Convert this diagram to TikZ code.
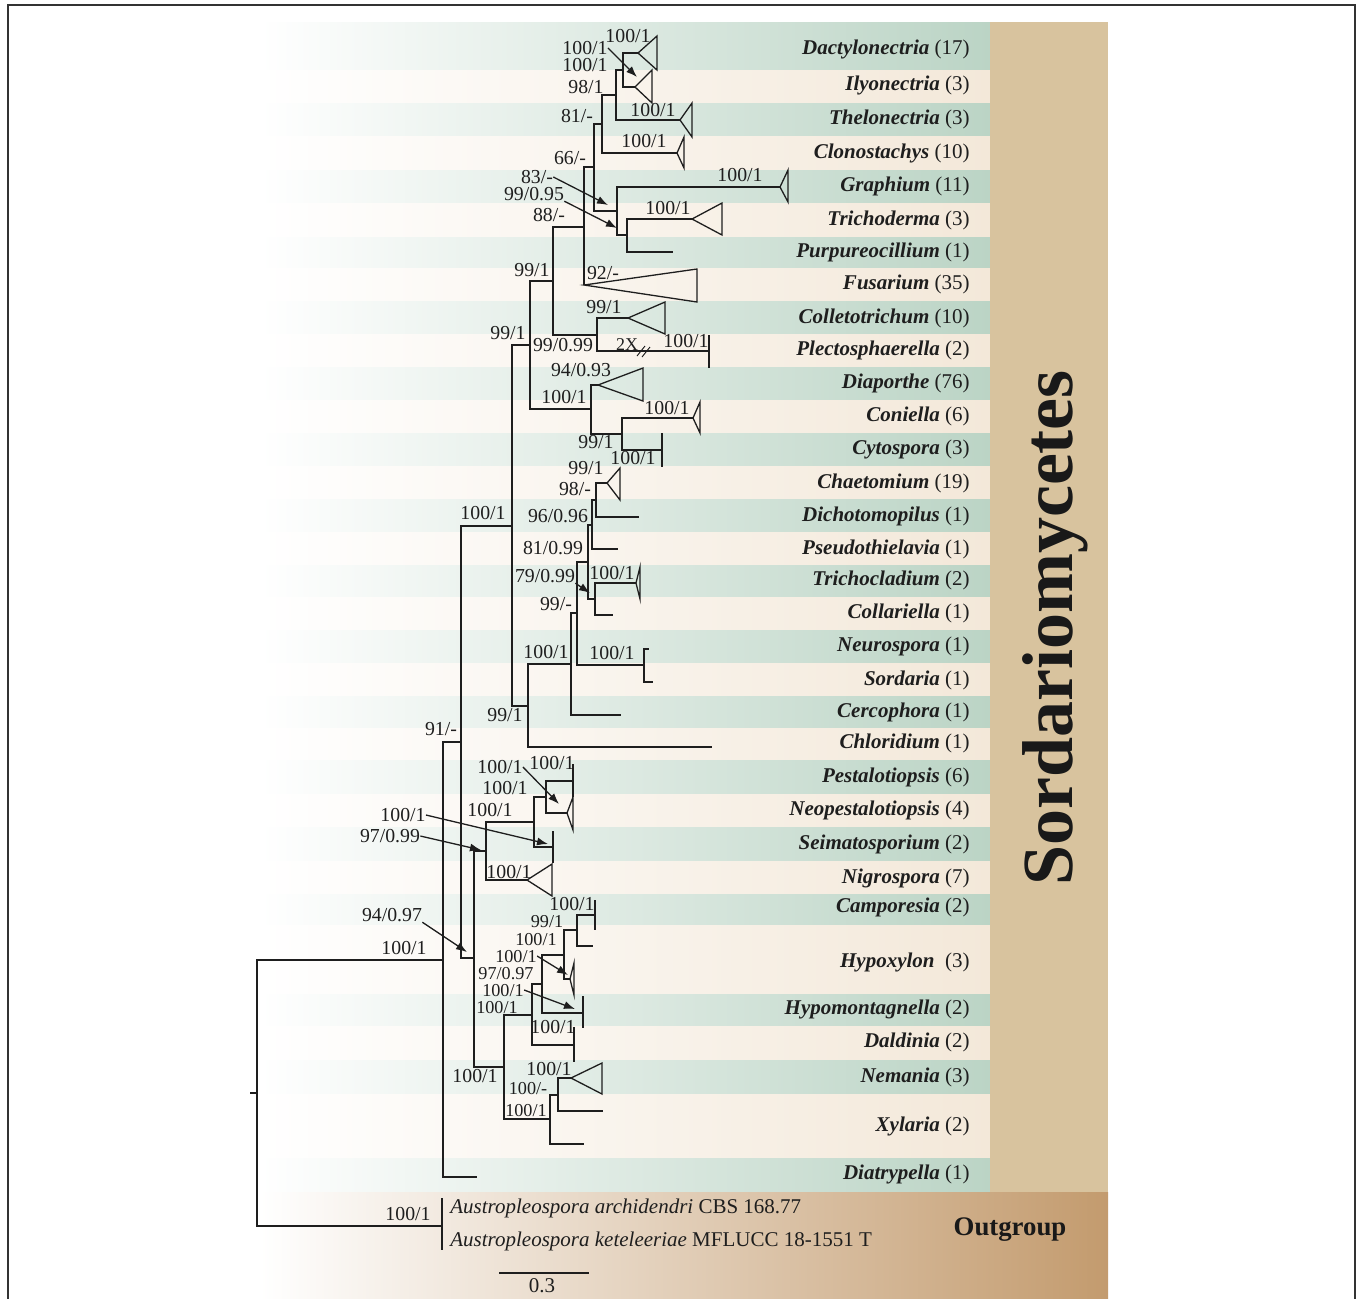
\documentclass[tikz,border=0pt]{standalone}
\usepackage{fontspec}
\setmainfont{Liberation Serif}
\usetikzlibrary{arrows.meta}
\definecolor{bgreen}{RGB}{187,212,197}
\definecolor{bbeige}{RGB}{243,232,217}
\definecolor{sbar}{RGB}{216,195,158}
\definecolor{ogr}{RGB}{195,155,110}
\definecolor{ogm}{RGB}{236,224,208}
\definecolor{treecol}{RGB}{30,30,30}
\tikzset{
  br/.style={draw=treecol, line width=0.65pt},
  arr/.style={draw=treecol, line width=0.65pt, -{Latex[length=5.5pt,width=4pt]}},
  bs/.style={font=\fontsize{9.9}{10}\selectfont, inner sep=0pt, text height=0.68em, text depth=0pt, text=treecol},
  bsm/.style={bs, font=\fontsize{9.1}{10}\selectfont},
  tx/.style={font=\fontsize{10.5}{12}\selectfont, anchor=east, inner sep=0pt, text height=0.7em, text depth=0.2em, text=treecol},
}
\begin{document}
\begin{tikzpicture}[x=0.5pt,y=-0.5pt]
\useasboundingbox (0,0) rectangle (1358,1298);
% frame
\draw[line width=0.7pt, draw=black!80] (8,5) rectangle (1355,1330);
% bands
\foreach \ta/\tb/\c in {22/70/bgreen,70/103/bbeige,103/136/bgreen,136/170/bbeige,170/203/bgreen,203/237/bbeige,237/268/bgreen,268/301/bbeige,301/334/bgreen,334/367/bbeige,367/400/bgreen,400/433/bbeige,433/466/bgreen,466/499/bbeige,499/532/bgreen,532/565/bbeige,565/597/bgreen,597/630/bbeige,630/663/bgreen,663/696/bbeige,696/728/bgreen,728/760/bbeige,760/794/bgreen,794/827/bbeige,827/861/bgreen,861/894/bbeige,894/925/bgreen,925/994/bbeige,994/1026/bgreen,1026/1060/bbeige,1060/1094/bgreen,1094/1158/bbeige,1158/1192/bgreen}
  {\shade[left color=white, middle color=\c!62!white, right color=\c] (260,\ta) rectangle (990,\tb);}
\fill[sbar] (990,22) rectangle (1108,1192);
\shade[left color=white, middle color=ogm, right color=ogr] (260,1192) rectangle (1108,1298);
\node[font=\bfseries\fontsize{36}{40}\selectfont, rotate=90, inner sep=0pt, text=black!90] (sord) at (1055,628) {Sordariomycetes};
\node[font=\bfseries\fontsize{13.4}{15}\selectfont, inner sep=0pt, text=black!90] (outg) at (1010,1230) {Outgroup};

% genus labels
\foreach \y/\t in {49/{\textbf{\textit{Dactylonectria}} (17)},85/{\textbf{\textit{Ilyonectria}} (3)},119/{\textbf{\textit{Thelonectria}} (3)},153/{\textbf{\textit{Clonostachys}} (10)},186/{\textbf{\textit{Graphium}} (11)},220/{\textbf{\textit{Trichoderma}} (3)},252/{\textbf{\textit{Purpureocillium}} (1)},284/{\textbf{\textit{Fusarium}} (35)},318/{\textbf{\textit{Colletotrichum}} (10)},350/{\textbf{\textit{Plectosphaerella}} (2)},383/{\textbf{\textit{Diaporthe}} (76)},416/{\textbf{\textit{Coniella}} (6)},449/{\textbf{\textit{Cytospora}} (3)},483/{\textbf{\textit{Chaetomium}} (19)},516/{\textbf{\textit{Dichotomopilus}} (1)},549/{\textbf{\textit{Pseudothielavia}} (1)},580/{\textbf{\textit{Trichocladium}} (2)},613/{\textbf{\textit{Collariella}} (1)},646/{\textbf{\textit{Neurospora}} (1)},680/{\textbf{\textit{Sordaria}} (1)},712/{\textbf{\textit{Cercophora}} (1)},743/{\textbf{\textit{Chloridium}} (1)},777/{\textbf{\textit{Pestalotiopsis}} (6)},810/{\textbf{\textit{Neopestalotiopsis}} (4)},844/{\textbf{\textit{Seimatosporium}} (2)},878/{\textbf{\textit{Nigrospora}} (7)},907/{\textbf{\textit{Camporesia}} (2)},962/{\textbf{\textit{Hypoxylon}}\ \ (3)},1009/{\textbf{\textit{Hypomontagnella}} (2)},1042/{\textbf{\textit{Daldinia}} (2)},1077/{\textbf{\textit{Nemania}} (3)},1126/{\textbf{\textit{Xylaria}} (2)},1174/{\textbf{\textit{Diatrypella}} (1)}}
  {\node[tx] (g\y) at (970,\y) {\t};}
\node[tx, anchor=west] (og1) at (450,1208) {\textit{Austropleospora archidendri} CBS 168.77};
\node[tx, anchor=west] (og2) at (450,1241) {\textit{Austropleospora keteleeriae} MFLUCC 18-1551 T};

% internal nodes
\coordinate (nDI) at (623,70);
\coordinate (nT) at (616,95);
\coordinate (nC) at (602,124);
\coordinate (nA) at (594,167);
\coordinate (nG) at (617,211);
\coordinate (nTr) at (627,235);
\coordinate (nF) at (584,227);
\coordinate (nB) at (553,281);
\coordinate (nCP) at (597,335);
\coordinate (nX) at (530,345);
\coordinate (nDC) at (591,409);
\coordinate (nCC) at (622,434);
\coordinate (nS) at (512,526);
\coordinate (nG2) at (528,706);
\coordinate (nF2) at (571,664);
\coordinate (nD) at (577,613);
\coordinate (nE) at (644,665);
\coordinate (nB2) at (588,562);
\coordinate (nA2) at (592,525);
\coordinate (nDi) at (596,500);
\coordinate (nC2) at (595,599);
\coordinate (nH) at (461,742);
\coordinate (nJ) at (443,960);
\coordinate (root) at (257,1093);
\coordinate (nOut) at (442,1226);
\coordinate (nK) at (486,851);
\coordinate (nL) at (534,822);
\coordinate (nM) at (546,797);
\coordinate (nI) at (474,958);
\coordinate (nN) at (504,1067);
\coordinate (nO) at (532,1015);
\coordinate (nQ) at (542,984);
\coordinate (nR) at (564,955);
\coordinate (nS2) at (577,930);
\coordinate (nP) at (550,1119);
\coordinate (nT2) at (558,1095);
% leaves / apices
\coordinate (aDac) at (638,53);
\coordinate (aIly) at (635,87);
\coordinate (aThe) at (680,120);
\coordinate (aClo) at (677,153);
\coordinate (aGra) at (780,187);
\coordinate (aTri) at (692,219);
\coordinate (lPur) at (673,252);
\coordinate (aFus) at (584,285);
\coordinate (aCol) at (628,318);
\coordinate (lPle) at (709,351);
\coordinate (aDia) at (598,385);
\coordinate (aCon) at (693,418);
\coordinate (lCyt) at (662,450);
\coordinate (aCha) at (607,483);
\coordinate (lDic) at (639,517);
\coordinate (lPse) at (618,549);
\coordinate (aTcl) at (636,583);
\coordinate (lCol) at (613,615);
\coordinate (lNeu) at (649,649);
\coordinate (lSor) at (653,682);
\coordinate (lCer) at (621,715);
\coordinate (lChl) at (712,747);
\coordinate (lPes) at (573,781);
\coordinate (aNeo) at (567,813);
\coordinate (lSei) at (553,847);
\coordinate (aNig) at (527,880);
\coordinate (lCam) at (595,915);
\coordinate (lHyp) at (593,946);
\coordinate (aHyp) at (570,979);
\coordinate (lHym) at (583,1013);
\coordinate (lDal) at (574,1045);
\coordinate (aNem) at (571,1078);
\coordinate (lXya) at (603,1111);
\coordinate (lXyb) at (584,1144);
\coordinate (lDtr) at (477,1177);
\coordinate (rs) at (250,1093);
\coordinate (o1) at (442,1198);
\coordinate (o2) at (442,1250);

% branches
\foreach \p/\c in {nDI/aDac,nDI/aIly,nT/nDI,nT/aThe,nC/nT,nC/aClo,nA/nC,nA/nG,nG/aGra,nG/nTr,nTr/aTri,nTr/lPur,nF/nA,nF/aFus,nB/nF,nB/nCP,nCP/aCol,nCP/lPle,nX/nB,nX/nDC,nDC/aDia,nDC/nCC,nCC/aCon,nCC/lCyt,nS/nX,nS/nG2,nG2/nF2,nG2/lChl,nF2/nD,nF2/lCer,nD/nB2,nD/nE,nE/lNeu,nE/lSor,nB2/nA2,nB2/nC2,nA2/nDi,nA2/lPse,nDi/aCha,nDi/lDic,nC2/aTcl,nC2/lCol,nH/nS,nH/nI,nJ/nH,nJ/lDtr,root/nJ,root/nOut,nI/nK,nI/nN,nK/nL,nK/aNig,nL/nM,nL/lSei,nM/lPes,nM/aNeo,nN/nO,nN/nP,nO/nQ,nO/lDal,nQ/nR,nQ/lHym,nR/nS2,nR/aHyp,nS2/lCam,nS2/lHyp,nP/nT2,nP/lXyb,nT2/aNem,nT2/lXya}
  {\draw[br] (\p) |- (\c);}
\draw[br] (rs) -- (root);
\draw[br] (o1) -- (o2);
% collapsed bars
\foreach \l/\u/\d in {lPle/16/17,lCyt/17/17,lPes/17/16,lSei/16/16,lCam/15/15,lHym/17/15,lDal/18/17}
  {\draw[br] (\l) ++(0,-\u) -- ++(0,\u+\d);}
% triangles
\foreach \a/\dx/\u/\d in {aDac/19/17/17,aIly/17/17/16,aThe/12/17/17,aClo/7/16/15,aGra/8/17/15,aTri/30/16/16,aFus/113/16/17,aCol/37/16/16,aDia/45/17/16,aCon/7/16/15,aCha/13/15/17,aTcl/4/16/16,aNeo/6/16/17,aNig/25/16/16,aHyp/4/16/16,aNem/31/15/16}
  {\draw[br, line join=miter] (\a) -- ++(\dx,-\u) -- ++(0,\u+\d) -- cycle;}
% 2X break
\coordinate (k1) at (637,356); \coordinate (k2) at (645,346);
\coordinate (k3) at (642,357); \coordinate (k4) at (650,347);
\draw[br, line width=0.45pt] (k1) -- (k2);
\draw[br, line width=0.45pt] (k3) -- (k4);
\node[bs, font=\fontsize{9}{10}\selectfont] (x2) at (627,344) {2X};

% support labels
\node[bs] (b1) at (628,36) {100/1};
\node[bs] (b2) at (585,48) {100/1};
\node[bs] (b3) at (585,65) {100/1};
\node[bs] (b4) at (586,87) {98/1};
\node[bs] (b5) at (653,110) {100/1};
\node[bs] (b6) at (577,116) {81/-};
\node[bs] (b7) at (644,141) {100/1};
\node[bs] (b8) at (570,158) {66/-};
\node[bs] (b9) at (740,175) {100/1};
\node[bs] (b10) at (537,177) {83/-};
\node[bs] (b11) at (534,194) {99/0.95};
\node[bs] (b12) at (668,208) {100/1};
\node[bs] (b13) at (549,215) {88/-};
\node[bs] (b14) at (532,270) {99/1};
\node[bs] (b15) at (603,273) {92/-};
\node[bs] (b16) at (604,307) {99/1};
\node[bs] (b17) at (508,333) {99/1};
\node[bs] (b18) at (563,345) {99/0.99};
\node[bs] (b19) at (686,341) {100/1};
\node[bs] (b20) at (581,370) {94/0.93};
\node[bs] (b21) at (564,397) {100/1};
\node[bs] (b22) at (667,408) {100/1};
\node[bs] (b23) at (596,442) {99/1};
\node[bs] (b24) at (633,458) {100/1};
\node[bs] (b25) at (586,468) {99/1};
\node[bs] (b26) at (575,489) {98/-};
\node[bs] (b27) at (483,513) {100/1};
\node[bs] (b28) at (558,516) {96/0.96};
\node[bs] (b29) at (553,548) {81/0.99};
\node[bs] (b30) at (612,573) {100/1};
\node[bs] (b31) at (545,576) {79/0.99};
\node[bs] (b32) at (556,604) {99/-};
\node[bs] (b33) at (546,652) {100/1};
\node[bs] (b34) at (612,653) {100/1};
\node[bs] (b35) at (505,715) {99/1};
\node[bs] (b36) at (441,729) {91/-};
\node[bs] (b37) at (500,767) {100/1};
\node[bs] (b38) at (552,763) {100/1};
\node[bs] (b39) at (505,788) {100/1};
\node[bs] (b40) at (403,815) {100/1};
\node[bs] (b41) at (490,810) {100/1};
\node[bs] (b42) at (390,836) {97/0.99};
\node[bs] (b43) at (509,872) {100/1};
\node[bs] (b44) at (572,904) {100/1};
\node[bs] (b45) at (392,915) {94/0.97};
\node[bsm] (b46) at (547,921) {99/1};
\node[bsm] (b47) at (536,939) {100/1};
\node[bs] (b48) at (404,948) {100/1};
\node[bsm] (b49) at (516,956) {100/1};
\node[bsm] (b50) at (506,973) {97/0.97};
\node[bsm] (b51) at (503,990) {100/1};
\node[bsm] (b52) at (497,1007) {100/1};
\node[bs] (b53) at (553,1027) {100/1};
\node[bs] (b54) at (549,1069) {100/1};
\node[bs] (b55) at (475,1076) {100/1};
\node[bsm] (b56) at (528,1088) {100/-};
\node[bsm] (b57) at (526,1110) {100/1};
\node[bs] (b58) at (408,1214) {100/1};

% arrows
\coordinate (t1) at (637,77);
\coordinate (t2) at (608,205);
\coordinate (t3) at (617,228);
\coordinate (t4) at (590,593);
\coordinate (t5) at (559,804);
\coordinate (t6) at (548,844);
\coordinate (t7) at (481,850);
\coordinate (t8) at (467,952);
\coordinate (t9) at (568,975);
\coordinate (t10) at (575,1009);
\draw[arr] (b2.east) -- (t1);
\draw[arr] (b10.east) -- (t2);
\draw[arr] (b11.south east) -- (t3);
\draw[arr] (b31.south east) -- (t4);
\draw[arr] (b37.east) -- (t5);
\draw[arr] (b40.east) -- (t6);
\draw[arr] (b42.east) -- (t7);
\draw[arr] (b45.south east) -- (t8);
\draw[arr] (b49.east) -- (t9);
\draw[arr] (b51.east) -- (t10);

% scale bar
\coordinate (s1) at (499,1273);
\coordinate (s2) at (589,1273);
\draw[br] (s1) -- (s2);
\node[tx, anchor=center] (sc) at (542,1287) {0.3};
\end{tikzpicture}
\end{document}
